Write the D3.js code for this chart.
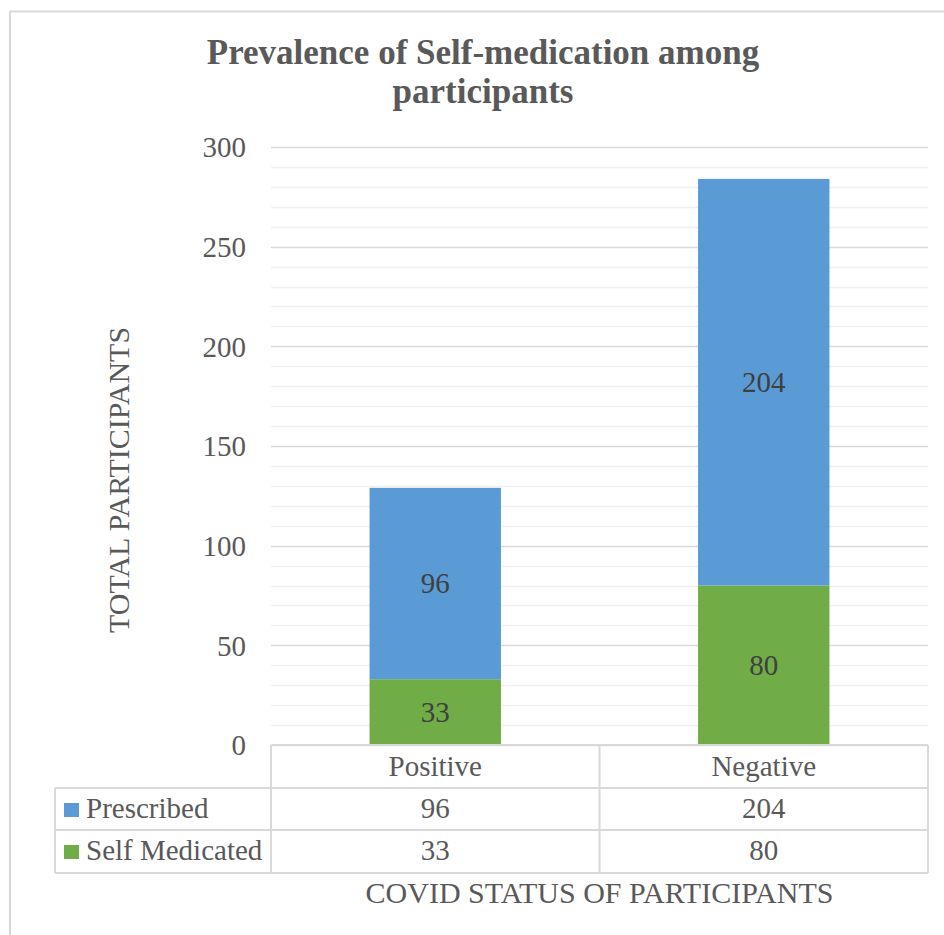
<!DOCTYPE html>
<html>
<head>
<meta charset="utf-8">
<script src="https://cdn.jsdelivr.net/npm/d3@7"></script>
<style>
  html, body { margin: 0; padding: 0; background: #fff; }
  svg { display: block; }
  text { font-family: "Liberation Serif", "Times New Roman", serif; }
</style>
</head>
<body>
<svg id="chart" width="944" height="935"></svg>
<script>
// Participants by COVID status, split by how they obtained medication
const categories = ["Positive", "Negative"];
const seriesNames = ["Prescribed", "Self Medicated"];
const prescribed = [96, 204];
const selfMedicated = [33, 80];
const yTicks = [0, 50, 100, 150, 200, 250, 300];
const seriesColors = ["#5B9BD5", "#70AD47"];

const titleLines = ["Prevalence of Self-medication among", "participants"];
const yTitle = "TOTAL PARTICIPANTS";
const xTitle = "COVID STATUS OF PARTICIPANTS";

const svg = d3.select("#chart");
const W = 944, H = 935;
const plot = { left: 271, right: 928, top: 147, bottom: 745 };

// outer chart frame
svg.append("rect")
  .attr("x", 10).attr("y", 11.5)
  .attr("width", W + 20).attr("height", H + 20)
  .attr("fill", "#fff").attr("stroke", "#D9D9D9").attr("stroke-width", 2);

// title
const title = svg.append("text")
  .attr("text-anchor", "middle")
  .attr("font-weight", "bold")
  .attr("font-size", 35)
  .attr("fill", "#595959");
titleLines.forEach((line, i) => {
  title.append("tspan").attr("x", 483).attr("y", 64 + i * 39).text(line);
});

// scales
const y = d3.scaleLinear().domain([0, 300]).range([plot.bottom, plot.top]);
const x = d3.scaleBand().domain(categories)
  .range([plot.left, plot.right]).paddingInner(0.6).paddingOuter(0.3);
const col = d3.scaleBand().domain(categories).range([plot.left, plot.right]);

// minor gridlines every 10
svg.append("g").selectAll("line")
  .data(d3.range(10, 300, 10).filter(v => v % 50 !== 0))
  .join("line")
  .attr("x1", plot.left).attr("x2", plot.right)
  .attr("y1", d => Math.round(y(d)) + 0.5).attr("y2", d => Math.round(y(d)) + 0.5)
  .attr("stroke", "#F0F0F0").attr("stroke-width", 1.5);

// major gridlines
svg.append("g").selectAll("line")
  .data(yTicks)
  .join("line")
  .attr("x1", plot.left).attr("x2", plot.right)
  .attr("y1", d => Math.round(y(d)) + 0.5).attr("y2", d => Math.round(y(d)) + 0.5)
  .attr("stroke", "#D9D9D9").attr("stroke-width", 1.5);

// y axis labels
const yAxis = svg.append("g")
  .attr("transform", `translate(${plot.left},0)`)
  .call(d3.axisLeft(y).tickValues(yTicks).tickSize(0).tickPadding(25));
yAxis.select(".domain").remove();
yAxis.selectAll("text")
  .attr("font-size", 29)
  .attr("fill", "#595959")
  .attr("dy", "0.34em");

// stacked bars (self medicated at bottom, prescribed on top)
const rows = categories.map((c, i) => ({
  category: c, "Prescribed": prescribed[i], "Self Medicated": selfMedicated[i]
}));
const stack = d3.stack().keys(["Self Medicated", "Prescribed"])(rows);
const colorOf = k => seriesColors[seriesNames.indexOf(k)];

const layers = svg.append("g").selectAll("g")
  .data(stack).join("g").attr("fill", d => colorOf(d.key));
layers.selectAll("rect")
  .data(d => d)
  .join("rect")
  .attr("x", d => x(d.data.category))
  .attr("width", x.bandwidth())
  .attr("y", d => y(d[1]))
  .attr("height", d => y(d[0]) - y(d[1]));

// value labels inside segments
layers.selectAll("text")
  .data(d => d)
  .join("text")
  .attr("x", d => x(d.data.category) + x.bandwidth() / 2)
  .attr("y", d => (y(d[0]) + y(d[1])) / 2)
  .attr("dy", "0.34em")
  .attr("text-anchor", "middle")
  .attr("font-size", 29)
  .attr("fill", "#404040")
  .text(d => d[1] - d[0]);

// data table
const tbl = svg.append("g");
const rowTop = [745, 788, 830, 873];
const legendLeft = 55;
const lineColor = "#D9D9D9";
const hline = (x1, x2, yy) => tbl.append("line")
  .attr("x1", x1).attr("x2", x2).attr("y1", yy).attr("y2", yy)
  .attr("stroke", lineColor).attr("stroke-width", 2);
const vline = (xx, y1, y2) => tbl.append("line")
  .attr("x1", xx).attr("x2", xx).attr("y1", y1).attr("y2", y2)
  .attr("stroke", lineColor).attr("stroke-width", 2);

hline(plot.left, plot.right, rowTop[0]);
hline(legendLeft, plot.right, rowTop[1]);
hline(legendLeft, plot.right, rowTop[2]);
hline(legendLeft, plot.right, rowTop[3]);
vline(legendLeft, rowTop[1], rowTop[3]);
categories.forEach(c => vline(col(c), rowTop[0], rowTop[3]));
vline(plot.right, rowTop[0], rowTop[3]);

// header row: category names
tbl.selectAll(".cat").data(categories).join("text")
  .attr("class", "cat")
  .attr("x", d => col(d) + col.bandwidth() / 2)
  .attr("y", 776)
  .attr("text-anchor", "middle")
  .attr("font-size", 29).attr("fill", "#595959")
  .text(d => d);

// series rows with legend keys
const seriesValues = [prescribed, selfMedicated];
seriesNames.forEach((name, r) => {
  const base = rowTop[r + 1];
  tbl.append("rect")
    .attr("x", 64).attr("y", base + 15)
    .attr("width", 15).attr("height", 14)
    .attr("fill", seriesColors[r]);
  tbl.append("text")
    .attr("x", 86).attr("y", base + 30)
    .attr("font-size", 29).attr("fill", "#595959")
    .text(name);
  categories.forEach((c, i) => {
    tbl.append("text")
      .attr("x", col(c) + col.bandwidth() / 2)
      .attr("y", base + 30)
      .attr("text-anchor", "middle")
      .attr("font-size", 29).attr("fill", "#595959")
      .text(seriesValues[r][i]);
  });
});

// axis titles
svg.append("text")
  .attr("x", (plot.left + plot.right) / 2).attr("y", 903)
  .attr("text-anchor", "middle")
  .attr("font-size", 30).attr("fill", "#595959")
  .text(xTitle);

svg.append("text")
  .attr("transform", "translate(129,480) rotate(-90)")
  .attr("text-anchor", "middle")
  .attr("font-size", 30).attr("fill", "#595959")
  .text(yTitle);
</script>
</body>
</html>
